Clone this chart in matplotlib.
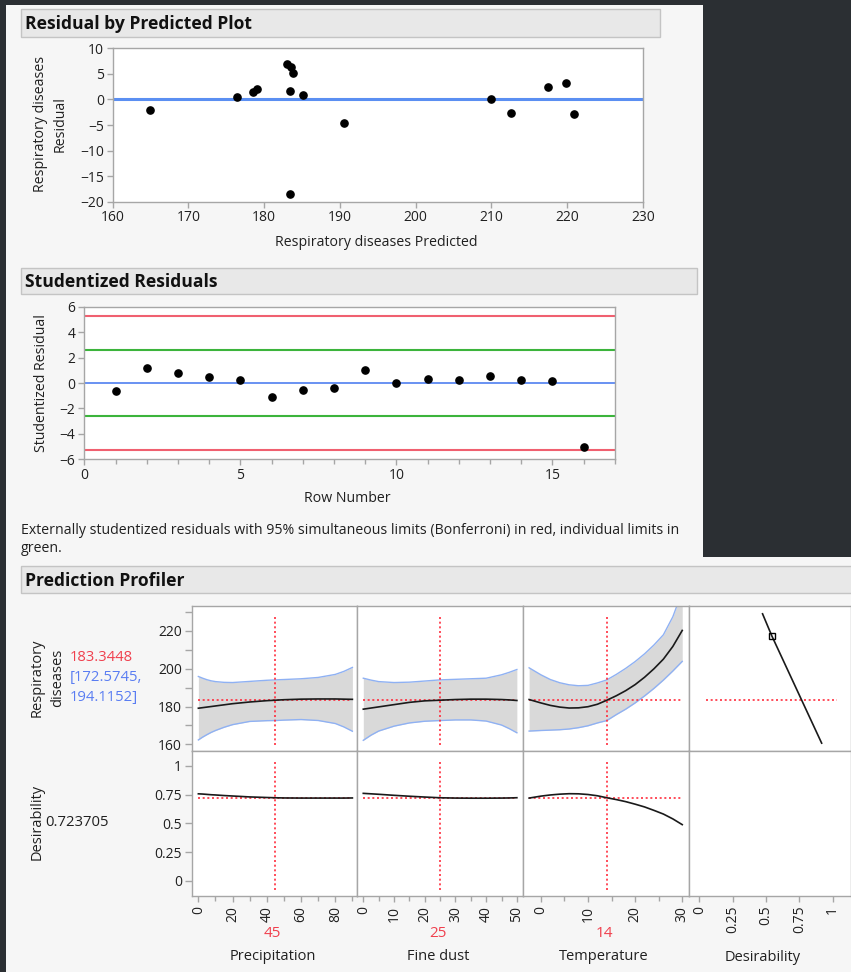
import matplotlib
matplotlib.use("Agg")
import matplotlib.pyplot as plt
from matplotlib.patches import Rectangle
from matplotlib.ticker import FixedLocator

plt.rcParams['font.family'] = ['Open Sans', 'DejaVu Sans']

# ---------------- data ----------------
# Residual by predicted
predicted = [164.9, 176.4, 178.5, 179.0, 183.0, 183.6, 183.8, 183.35,
             185.1, 183.35, 190.5, 210.0, 212.6, 217.5, 219.8, 220.9]
residual = [-2.0, 0.5, 1.4, 2.0, 7.0, 6.4, 5.2, 1.6,
            0.9, -18.4, -4.6, 0.0, -2.6, 2.4, 3.2, -2.9]

# Studentized residuals by row
row_number = list(range(1, 17))
stud_resid = [-0.65, 1.15, 0.81, 0.50, 0.21, -1.07, -0.58, -0.42,
              1.05, 0.0, 0.31, 0.24, 0.58, 0.24, 0.16, -5.06]
bonferroni_limit = 5.3
individual_limit = 2.6

# Prediction profiler traces
precip_x = [0, 2.5, 5, 7.5, 10, 15, 20, 30, 40, 45, 50, 60, 70, 80, 85, 90]
precip_mid = [179.1, 179.4, 179.7, 180.0, 180.3, 180.9, 181.5, 182.4, 183.1, 183.3448,
              183.6, 183.9, 184.0, 184.0, 183.9, 183.8]
precip_hi = [195.9, 195.0, 194.2, 193.6, 193.2, 192.8, 192.7, 193.3, 193.9, 194.1152,
             194.3, 194.7, 195.4, 197.0, 198.6, 200.7]
precip_lo = [162.3, 163.8, 165.1, 166.3, 167.3, 169.0, 170.4, 172.1, 172.5, 172.5745,
             172.8, 173.1, 172.6, 171.0, 169.2, 166.9]
precip_des = [0.758, 0.756, 0.753, 0.750, 0.748, 0.743, 0.739, 0.731, 0.726, 0.7237,
              0.722, 0.721, 0.721, 0.721, 0.721, 0.722]

dust_x = [0, 2.5, 5, 10, 15, 20, 25, 30, 35, 40, 45, 47.5, 50]
dust_mid = [178.6, 179.2, 179.8, 181.0, 182.2, 183.0, 183.3448, 183.7, 183.9, 183.9,
            183.7, 183.5, 183.2]
dust_hi = [195.0, 194.0, 193.2, 192.7, 192.9, 193.5, 194.1152, 194.4, 194.7, 195.0,
           196.8, 198.1, 199.6]
dust_lo = [162.1, 164.8, 167.0, 169.6, 171.3, 172.2, 172.5745, 172.9, 172.9, 172.3,
           170.2, 168.3, 166.1]
dust_des = [0.762, 0.758, 0.754, 0.745, 0.737, 0.730, 0.7237, 0.721, 0.720, 0.720,
            0.721, 0.722, 0.724]

temp_x = [-2.5, 0, 2, 4, 6, 8, 10, 12, 14, 16, 18, 20, 22, 24, 26, 28, 30]
temp_mid = [183.7, 181.9, 180.6, 179.7, 179.2, 179.3, 179.9, 181.2, 183.3448, 185.7,
            188.4, 191.6, 195.5, 200.0, 205.1, 211.8, 220.3]
temp_hi = [200.5, 196.8, 194.3, 192.6, 191.5, 191.0, 191.2, 192.5, 194.1152, 197.0,
           200.2, 203.8, 207.9, 212.6, 218.0, 227.5, 241.0]
temp_lo = [167.0, 167.3, 167.5, 167.7, 168.1, 168.8, 169.8, 171.3, 172.5745, 175.7,
           178.6, 181.9, 185.6, 189.6, 194.0, 198.8, 203.9]
temp_des = [0.721, 0.738, 0.748, 0.755, 0.759, 0.758, 0.752, 0.741, 0.7237, 0.708,
            0.690, 0.668, 0.644, 0.614, 0.582, 0.540, 0.490]

# Desirability function for the response
des_curve_d = [0.474, 0.543, 0.917]
des_curve_y = [229.1, 217.5, 160.6]
des_handle = (0.543, 217.5)

factor_names = ['Precipitation', 'Fine dust', 'Temperature']
factor_current = [45, 25, 14]
pred_value = 183.3448
pred_ci = (172.5745, 194.1152)
desirability_value = 0.723705

# ---------------- styling ----------------
W, H, DPI = 851, 972, 100
DARK = '#2b2f33'
LIGHT = '#f6f6f6'
HEADER = '#e8e8e8'
HEADER_EDGE = '#c4c4c4'
FRAME = '#a6a6a6'
TXT = '#202020'
RED_TXT = '#f0404e'
BLUE_TXT = '#5a7df2'
RED_DOT = '#ff2d3d'
BAND = '#d9d9d9'
BAND_EDGE = '#8fb1f3'
PX = 0.72  # points per pixel
LBL = 10.2

fig = plt.figure(figsize=(W / DPI, H / DPI), dpi=DPI, facecolor=DARK)


def px_axes(x0, y0, x1, y1, **kw):
    return fig.add_axes([x0 / W, 1 - y1 / H, (x1 - x0) / W, (y1 - y0) / H], **kw)


bg = px_axes(0, 0, W, H, zorder=-10)
bg.set_xlim(0, W)
bg.set_ylim(H, 0)
bg.axis('off')
bg.add_patch(Rectangle((6, 5), 697, 553, color=LIGHT, lw=0))
bg.add_patch(Rectangle((6, 557), W - 6, H - 557, color=LIGHT, lw=0))


def header(x0, y0, x1, y1, title):
    bg.add_patch(Rectangle((x0, y0), x1 - x0, y1 - y0, facecolor=HEADER,
                           edgecolor=HEADER_EDGE, lw=1))
    bg.text(x0 + 4, (y0 + y1) / 2 + 1, title, ha='left', va='center',
            fontsize=12.6, fontweight='bold', color='#111111')


header(21, 9, 660, 37, 'Residual by Predicted Plot')
header(21, 268, 697, 294, 'Studentized Residuals')
header(21, 566, 853, 593, 'Prediction Profiler')


def style_axes(ax):
    ax.set_facecolor('white')
    for s in ax.spines.values():
        s.set_color(FRAME)
        s.set_linewidth(1.0)
    ax.tick_params(which='both', direction='out', color=FRAME, labelcolor=TXT,
                   labelsize=10, width=1.0)
    ax.tick_params(which='major', length=6 * PX, pad=2)
    ax.tick_params(which='minor', length=5 * PX)


# ---------------- residual by predicted ----------------
ax1 = px_axes(112.7, 48.3, 643, 201.7)
style_axes(ax1)
ax1.set_xlim(160, 230)
ax1.set_ylim(-20, 10)
ax1.set_xticks(range(160, 231, 10))
ax1.set_yticks(range(-20, 11, 5))
ax1.axhline(0, color='#5b8ff2', lw=2.2, zorder=2)
ax1.plot(predicted, residual, 'o', color='black', ms=5.2, zorder=3)
bg.text(41, 124, 'Respiratory diseases', rotation=90, ha='center', va='center',
        fontsize=LBL, color=TXT)
bg.text(60, 124, 'Residual', rotation=90, ha='center', va='center',
        fontsize=LBL, color=TXT)
bg.text(376, 242, 'Respiratory diseases Predicted', ha='center', va='center',
        fontsize=LBL, color=TXT)

# ---------------- studentized residuals ----------------
ax2 = px_axes(84.3, 306.7, 614.7, 459.3)
style_axes(ax2)
ax2.set_xlim(0, 17)
ax2.set_ylim(-6, 6)
ax2.set_xticks([0, 5, 10, 15])
ax2.xaxis.set_minor_locator(FixedLocator([i for i in range(1, 18) if i % 5]))
ax2.set_yticks(range(-6, 7, 2))
ax2.axhline(0, color='#4f7ff0', lw=1.2, zorder=2)
for lim in (bonferroni_limit, -bonferroni_limit):
    ax2.axhline(lim, color='#f06070', lw=1.5, zorder=2)
for lim in (individual_limit, -individual_limit):
    ax2.axhline(lim, color='#3cb43c', lw=1.5, zorder=2)
ax2.plot(row_number, stud_resid, 'o', color='black', ms=5.2, zorder=3)
bg.text(42, 383, 'Studentized Residual', rotation=90, ha='center', va='center',
        fontsize=LBL, color=TXT)
bg.text(347, 498, 'Row Number', ha='center', va='center', fontsize=LBL, color=TXT)
bg.text(21, 530, 'Externally studentized residuals with 95% simultaneous limits '
        '(Bonferroni) in red, individual limits in', ha='left', va='center',
        fontsize=LBL, color=TXT)
bg.text(21, 548, 'green.', ha='left', va='center', fontsize=LBL, color=TXT)

# ---------------- prediction profiler ----------------
cols = [191.7, 357, 523, 689.3, 851]
rows = [605.7, 750.7, 895.7]
xlims = [(-3.9, 92.7), (-2.05, 52.0), (-3.8, 31.5), (-0.075, 1.137)]
ylims = [(156.6, 233.4), (-0.128, 1.133)]
major_x = [[0, 20, 40, 60, 80], [0, 10, 20, 30, 40, 50], [0, 10, 20, 30],
           [0, 0.25, 0.5, 0.75, 1]]
major_x_lbl = [['0', '20', '40', '60', '80'], ['0', '10', '20', '30', '40', '50'],
               ['0', '10', '20', '30'], ['0', '0.25', '0.5', '0.75', '1']]
minor_x = [[10, 30, 50, 70, 90], [5, 15, 25, 35, 45], [5, 15, 25], []]

traces = [
    (precip_x, precip_mid, precip_lo, precip_hi, precip_des),
    (dust_x, dust_mid, dust_lo, dust_hi, dust_des),
    (temp_x, temp_mid, temp_lo, temp_hi, temp_des),
]

dot = (0, (1.2, 1.6))
vmin, vmax = 0.039, 0.936

for r in range(2):
    for c in range(4):
        ax = px_axes(cols[c], rows[r], cols[c + 1], rows[r + 1])
        style_axes(ax)
        ax.set_xlim(*xlims[c])
        ax.set_ylim(*ylims[r])
        if r == 1:
            ax.set_xticks(major_x[c])
            ax.set_xticklabels(major_x_lbl[c], rotation=90, va='top')
            ax.xaxis.set_minor_locator(FixedLocator(minor_x[c]))
            ax.tick_params(axis='x', which='major', length=6 * PX, pad=3)
        else:
            ax.set_xticks([])
        if c == 0:
            if r == 0:
                ax.set_yticks([160, 180, 200, 220])
                ax.yaxis.set_minor_locator(FixedLocator([170, 190, 210, 230]))
            else:
                ax.set_yticks([0, 0.25, 0.5, 0.75, 1])
                ax.set_yticklabels(['0', '0.25', '0.5', '0.75', '1'])
            ax.tick_params(axis='y', which='both', length=7 * PX, pad=2)
        else:
            ax.set_yticks([])

        if c < 3:
            x, mid, lo, hi, des = traces[c]
            if r == 0:
                ax.fill_between(x, lo, hi, color=BAND, lw=0, zorder=1)
                ax.plot(x, hi, color=BAND_EDGE, lw=1.0, zorder=2)
                ax.plot(x, lo, color=BAND_EDGE, lw=1.0, zorder=2)
                ax.plot(x, mid, color='#1a1a1a', lw=1.2, zorder=4)
                ax.plot([min(x), max(x)], [pred_value, pred_value], color=RED_DOT,
                        lw=1.2, ls=dot, zorder=3)
            else:
                ax.plot(x, des, color='#1a1a1a', lw=1.2, zorder=4)
                ax.plot([min(x), max(x)], [desirability_value, desirability_value],
                        color=RED_DOT, lw=1.2, ls=dot, zorder=3)
            ax.axvline(factor_current[c], ymin=vmin, ymax=vmax, color=RED_DOT,
                       lw=1.2, ls=dot, zorder=3)
        elif r == 0:
            ax.plot(des_curve_d, des_curve_y, color='#1a1a1a', lw=1.2, zorder=4)
            ax.plot([des_handle[0]], [des_handle[1]], 's', mfc='none', mec='black',
                    ms=5, mew=1.0, zorder=5)
            ax.plot([0.05, 1.03], [pred_value, pred_value], color=RED_DOT, lw=1.2,
                    ls=dot, zorder=3)

# left-side response labels
bg.text(37, 678, 'Respiratory', rotation=90, ha='center', va='center',
        fontsize=10.5, color=TXT)
bg.text(58, 678, 'diseases', rotation=90, ha='center', va='center',
        fontsize=10.5, color=TXT)
bg.text(70, 657, f'{pred_value:.4f}', ha='left', va='center', fontsize=10.7,
        color=RED_TXT)
bg.text(70, 677, f'[{pred_ci[0]:.4f},', ha='left', va='center', fontsize=10.7,
        color=BLUE_TXT)
bg.text(70, 697, f'{pred_ci[1]:.4f}]', ha='left', va='center', fontsize=10.7,
        color=BLUE_TXT)
bg.text(37, 822, 'Desirability', rotation=90, ha='center', va='center',
        fontsize=10.5, color=TXT)
bg.text(45, 822, f'{desirability_value:.6f}', ha='left', va='center',
        fontsize=10.7, color=TXT)

# factor labels under the columns
for c in range(3):
    cx = (cols[c] + cols[c + 1]) / 2 - 2
    bg.text(cx, 933, str(factor_current[c]), ha='center', va='center',
            fontsize=11, color=RED_TXT)
    bg.text(cx, 956, factor_names[c], ha='center', va='center',
            fontsize=10.5, color=TXT)
bg.text(763, 957, 'Desirability', ha='center', va='center', fontsize=10.5, color=TXT)

fig.savefig('out.png', dpi=DPI, facecolor=DARK)
